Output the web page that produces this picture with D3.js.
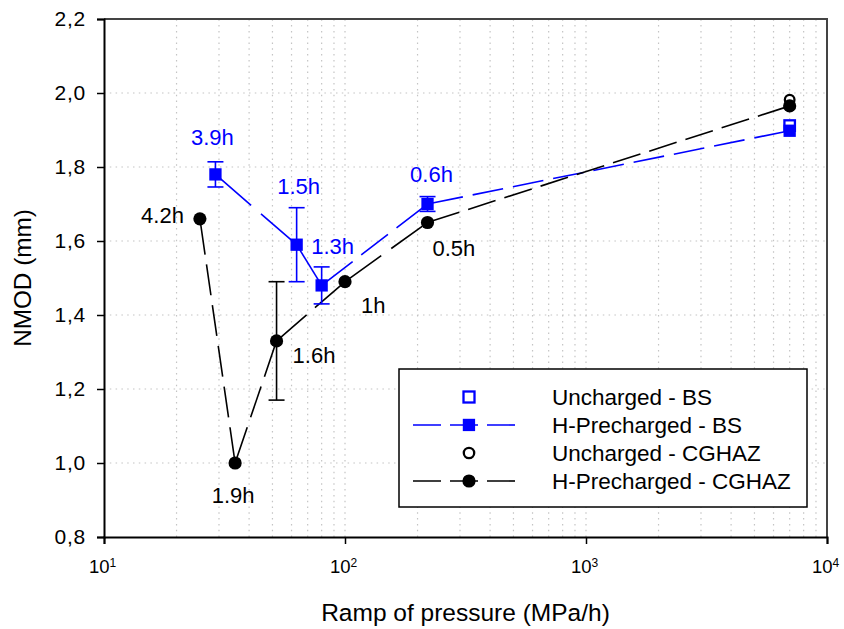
<!DOCTYPE html>
<html>
<head>
<meta charset="utf-8">
<script src="https://cdn.jsdelivr.net/npm/d3@7"></script>
<style>
  body { margin: 0; background: #fff; }
  svg { display: block; font-family: "Liberation Sans", Arial, sans-serif; }
</style>
</head>
<body>
<script>
// --- data ---
const bsChargedX = [29, 63, 80, 220, 7000];
const bsChargedY = [1.78, 1.59, 1.48, 1.70, 1.898];
const bsChargedErr = [0.034, 0.10, 0.05, 0.02, 0];
const bsChargedLabels = ['3.9h', '1.5h', '1.3h', '0.6h', ''];

const bsUnchargedX = [7000];
const bsUnchargedY = [1.912];

const cgChargedX = [25, 35, 52, 100, 220, 7000];
const cgChargedY = [1.66, 1.00, 1.33, 1.49, 1.65, 1.965];
const cgChargedErr = [0, 0, 0.16, 0, 0, 0];
const cgChargedLabels = ['4.2h', '1.9h', '1.6h', '1h', '0.5h', ''];

const cgUnchargedX = [7000];
const cgUnchargedY = [1.982];

const yTicks = [0.8, 1.0, 1.2, 1.4, 1.6, 1.8, 2.0, 2.2];
const xDecades = [10, 100, 1000, 10000];
const legendNames = ['Uncharged - BS', 'H-Precharged - BS', 'Uncharged - CGHAZ', 'H-Precharged - CGHAZ'];

// label placement relative to its point: [dx, dy, anchor]
const bsLabelPos = [[-3, -29, 'middle'], [2, -51, 'middle'], [11, -31, 'middle'], [4, -22, 'middle']];
const cgLabelPos = [[-16, 4, 'end'], [-2, 40, 'middle'], [16, 22, 'start'], [16, 31, 'start'], [5, 33, 'start']];

const W = 844, H = 629;
const margin = { top: 19, right: 17, bottom: 92, left: 104 };
const BLUE = '#0000ff';
const FONT = '"Liberation Sans", Arial, sans-serif';

const svg = d3.select('body').append('svg')
  .attr('width', W)
  .attr('height', H);

const x = d3.scaleLog().domain([10, 10000]).range([margin.left, W - margin.right]);
const y = d3.scaleLinear().domain([0.8, 2.2]).range([H - margin.bottom, margin.top]);

// grid
const minorX = [];
xDecades.slice(0, -1).forEach(d => { for (let k = 2; k <= 9; k++) minorX.push(d * k); });
xDecades.slice(1, -1).forEach(d => minorX.push(d));

const grid = svg.append('g')
  .attr('stroke', '#c4c4c4')
  .attr('stroke-width', 1.2)
  .attr('stroke-dasharray', '1.5,4.3');
grid.selectAll('.gx').data(minorX).enter().append('line')
  .attr('x1', d => x(d)).attr('x2', d => x(d))
  .attr('y1', y.range()[0]).attr('y2', y.range()[1]);
grid.selectAll('.gy').data(yTicks.slice(1, -1)).enter().append('line')
  .attr('y1', d => y(d)).attr('y2', d => y(d))
  .attr('x1', x.range()[0]).attr('x2', x.range()[1]);

// frame (top + right)
svg.append('path')
  .attr('d', `M${x.range()[0]},${y.range()[1]}H${x.range()[1]}V${y.range()[0]}`)
  .attr('fill', 'none')
  .attr('stroke', '#444')
  .attr('stroke-width', 2);

// axes
const yAxis = svg.append('g')
  .attr('transform', `translate(${margin.left},0)`)
  .call(d3.axisLeft(y).tickValues(yTicks).tickSize(7).tickPadding(11)
    .tickFormat(d => d3.format('.1f')(d).replace('.', ',')));
const xAxis = svg.append('g')
  .attr('transform', `translate(0,${H - margin.bottom})`)
  .call(d3.axisBottom(x).tickValues(xDecades).tickSize(7).tickFormat(''));

[yAxis, xAxis].forEach(a => {
  a.select('.domain').attr('stroke', '#000').attr('stroke-width', 2);
  a.selectAll('.tick line').attr('stroke', '#000').attr('stroke-width', 1.5);
});
yAxis.selectAll('.tick text')
  .attr('font-size', 21)
  .attr('letter-spacing', 0.8)
  .attr('fill', '#000')
  .attr('font-family', FONT);

xAxis.selectAll('.tick').each(function (d) {
  const t = d3.select(this).append('text')
    .attr('x', -2)
    .attr('y', 36)
    .attr('text-anchor', 'middle')
    .attr('fill', '#000')
    .attr('font-size', 18.5)
    .attr('font-family', FONT);
  t.append('tspan').text('10');
  t.append('tspan').attr('dy', -6).attr('font-size', 12).text(Math.round(Math.log10(d)));
});

// axis titles
svg.append('text')
  .attr('x', (x.range()[0] + x.range()[1]) / 2)
  .attr('y', 621)
  .attr('text-anchor', 'middle')
  .attr('font-size', 24.5)
  .text('Ramp of pressure (MPa/h)');
svg.append('text')
  .attr('transform', `translate(31,${(y.range()[0] + y.range()[1]) / 2}) rotate(-90)`)
  .attr('text-anchor', 'middle')
  .attr('font-size', 24.3)
  .text('NMOD (mm)');

// dashed connecting lines, pattern stretched to fit each segment
const DASH = 28, GAP = 9;
function dashedSeries(xs, ys, color) {
  const g = svg.append('g');
  for (let i = 0; i < xs.length - 1; i++) {
    const x1 = x(xs[i]), y1 = y(ys[i]), x2 = x(xs[i + 1]), y2 = y(ys[i + 1]);
    const L = Math.hypot(x2 - x1, y2 - y1);
    const n = Math.max(1, Math.floor(L / (DASH + GAP)));
    const s = L / (n * (DASH + GAP));
    g.append('line')
      .attr('x1', x1).attr('y1', y1).attr('x2', x2).attr('y2', y2)
      .attr('stroke', color)
      .attr('stroke-width', 1.6)
      .attr('stroke-dasharray', `${DASH * s},${GAP * s}`)
      .attr('stroke-dashoffset', DASH * s + GAP * s / 2);
  }
}
dashedSeries(bsChargedX, bsChargedY, BLUE);
dashedSeries(cgChargedX, cgChargedY, '#000');

// error bars
function errorBars(xs, ys, errs, color) {
  const g = svg.append('g').attr('stroke', color).attr('stroke-width', 1.6);
  xs.forEach((xv, i) => {
    if (!errs[i]) return;
    const cx = x(xv), top = y(ys[i] + errs[i]), bot = y(ys[i] - errs[i]);
    g.append('line').attr('x1', cx).attr('x2', cx).attr('y1', top).attr('y2', bot);
    g.append('line').attr('x1', cx - 8).attr('x2', cx + 8).attr('y1', top).attr('y2', top);
    g.append('line').attr('x1', cx - 8).attr('x2', cx + 8).attr('y1', bot).attr('y2', bot);
  });
}
errorBars(bsChargedX, bsChargedY, bsChargedErr, BLUE);
errorBars(cgChargedX, cgChargedY, cgChargedErr, '#000');

// markers
function squares(xs, ys, filled, size) {
  svg.append('g').selectAll('rect').data(xs).enter().append('rect')
    .attr('x', (d) => x(d) - size / 2)
    .attr('y', (d, i) => y(ys[i]) - size / 2)
    .attr('width', size).attr('height', size)
    .attr('fill', filled ? BLUE : '#fff')
    .attr('stroke', BLUE)
    .attr('stroke-width', filled ? 0 : 2.3);
}
function circles(xs, ys, filled, r) {
  svg.append('g').selectAll('circle').data(xs).enter().append('circle')
    .attr('cx', d => x(d))
    .attr('cy', (d, i) => y(ys[i]))
    .attr('r', r)
    .attr('fill', filled ? '#000' : '#fff')
    .attr('stroke', '#000')
    .attr('stroke-width', filled ? 0 : 2.3);
}
squares(bsUnchargedX, bsUnchargedY, false, 10.5);
circles(cgUnchargedX, cgUnchargedY, false, 4.8);
squares(bsChargedX, bsChargedY, true, 12.3);
circles(cgChargedX, cgChargedY, true, 6.6);

// point labels
function labels(xs, ys, texts, pos, color) {
  svg.append('g').selectAll('text').data(pos).enter().append('text')
    .attr('x', (p, i) => x(xs[i]) + p[0])
    .attr('y', (p, i) => y(ys[i]) + p[1])
    .attr('text-anchor', p => p[2])
    .attr('font-size', 22)
    .attr('fill', color)
    .text((p, i) => texts[i]);
}
labels(bsChargedX, bsChargedY, bsChargedLabels, bsLabelPos, BLUE);
labels(cgChargedX, cgChargedY, cgChargedLabels, cgLabelPos, '#000');

// legend
const lg = svg.append('g').attr('transform', 'translate(399,369)');
lg.append('rect')
  .attr('width', 408).attr('height', 138)
  .attr('fill', '#fff').attr('stroke', '#000').attr('stroke-width', 1.5);
const rowY = d3.scalePoint().domain(legendNames).range([28, 112]);
const symX = 70;
legendNames.forEach((name, i) => {
  const cy = rowY(name);
  const color = i < 2 ? BLUE : '#000';
  if (i % 2 === 1) {
    lg.append('line')
      .attr('x1', 14).attr('x2', 116).attr('y1', cy).attr('y2', cy)
      .attr('stroke', color).attr('stroke-width', 1.6)
      .attr('stroke-dasharray', `${DASH},${GAP}`);
  }
  if (i === 0) {
    lg.append('rect').attr('x', symX - 5.5).attr('y', cy - 5.5).attr('width', 11).attr('height', 11)
      .attr('fill', '#fff').attr('stroke', BLUE).attr('stroke-width', 2.3);
  } else if (i === 1) {
    lg.append('rect').attr('x', symX - 6.2).attr('y', cy - 6.2).attr('width', 12.3).attr('height', 12.3)
      .attr('fill', BLUE);
  } else if (i === 2) {
    lg.append('circle').attr('cx', symX).attr('cy', cy).attr('r', 5.2)
      .attr('fill', '#fff').attr('stroke', '#000').attr('stroke-width', 2.3);
  } else {
    lg.append('circle').attr('cx', symX).attr('cy', cy).attr('r', 6.6).attr('fill', '#000');
  }
  lg.append('text')
    .attr('x', 153).attr('y', cy)
    .attr('dy', '0.36em')
    .attr('font-size', 22.5)
    .text(name);
});
</script>
</body>
</html>
